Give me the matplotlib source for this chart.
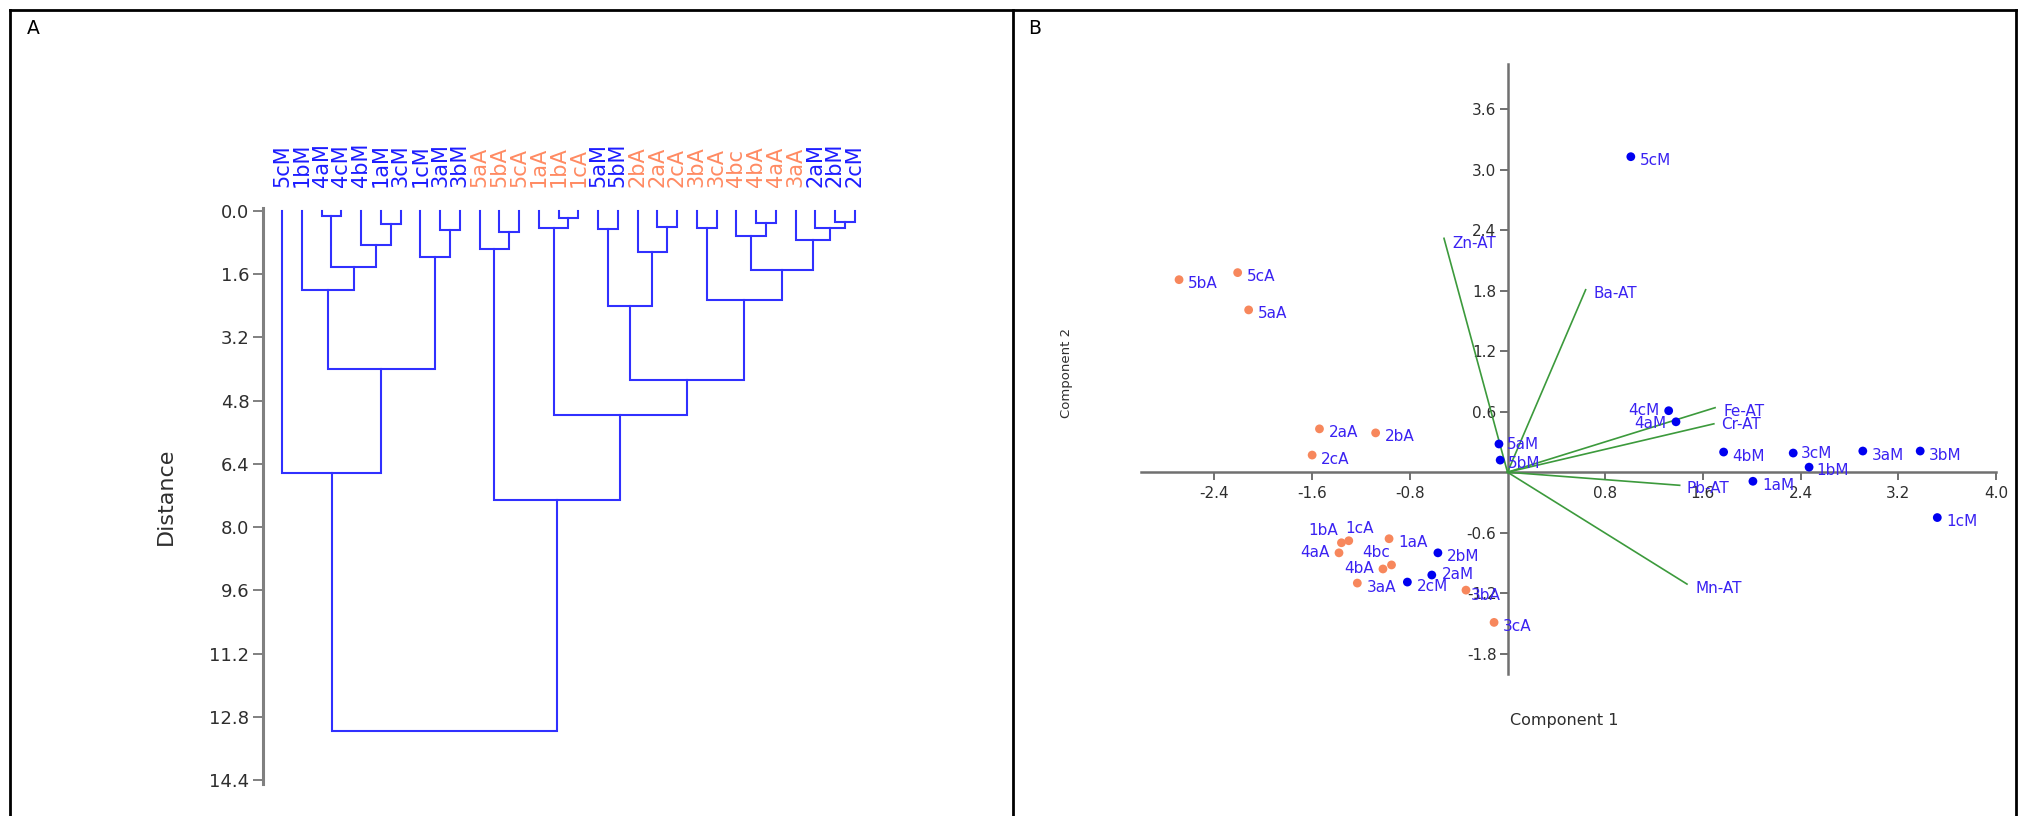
import matplotlib
matplotlib.use('Agg')
import matplotlib.pyplot as plt
from matplotlib.lines import Line2D

# ---------------- Data: panel A (dendrogram) ----------------
leaf_labels = ['5cM', '1bM', '4aM', '4cM', '4bM', '1aM', '3cM', '1cM', '3aM', '3bM',
               '5aA', '5bA', '5cA', '1aA', '1bA', '1cA', '5aM', '5bM', '2bA', '2aA',
               '2cA', '3bA', '3cA', '4bc', '4bA', '4aA', '3aA', '2aM', '2bM', '2cM']
leaf_groups = ['M'] * 10 + ['A'] * 6 + ['M'] * 2 + ['A'] * 9 + ['M'] * 3

# merges: node ids 0..29 are leaves, merge k creates node 30+k
merge_left = [2, 5, 4, 30, 1, 8, 7, 34, 0,
              11, 10, 14, 13, 16, 19, 18, 43, 21, 24, 23, 28, 27, 26, 49, 47, 46, 42, 40, 38]
merge_right = [3, 6, 31, 32, 33, 9, 35, 36, 37,
               12, 39, 15, 41, 17, 20, 44, 45, 22, 25, 48, 29, 50, 51, 52, 53, 54, 55, 56, 57]
merge_height = [0.13, 0.32, 0.87, 1.42, 2.01, 0.49, 1.17, 4.00, 6.62,
                0.53, 0.95, 0.18, 0.44, 0.46, 0.40, 1.05, 2.40, 0.44, 0.31, 0.63,
                0.27, 0.44, 0.74, 1.50, 2.25, 4.28, 5.16, 7.32, 13.17]
dist_ticks = [0.0, 1.6, 3.2, 4.8, 6.4, 8.0, 9.6, 11.2, 12.8, 14.4]

# ---------------- Data: panel B (PCA biplot) ----------------
score_labels = ['5cM', '5bA', '5cA', '5aA', '2aA', '2bA', '2cA', '5aM', '5bM', '4cM',
                '4aM', '4bM', '3cM', '1bM', '3aM', '3bM', '1aM', '1cM',
                '1bA', '1cA', '4aA', '1aA', '2bM', '4bc', '4bA', '2aM', '3aA', '2cM',
                '3bA', '3cA']
score_x = [1.01, -2.69, -2.21, -2.12, -1.54, -1.08, -1.60, -0.07, -0.06, 1.32,
           1.38, 1.77, 2.34, 2.47, 2.91, 3.38, 2.01, 3.52,
           -1.36, -1.30, -1.38, -0.97, -0.57, -0.95, -1.02, -0.62, -1.23, -0.82,
           -0.34, -0.11]
score_y = [3.13, 1.91, 1.98, 1.61, 0.43, 0.39, 0.17, 0.28, 0.12, 0.61,
           0.50, 0.20, 0.19, 0.05, 0.21, 0.21, -0.09, -0.45,
           -0.70, -0.68, -0.80, -0.66, -0.80, -0.92, -0.96, -1.02, -1.10, -1.09,
           -1.17, -1.49]
score_groups = ['M', 'A', 'A', 'A', 'A', 'A', 'A', 'M', 'M', 'M',
                'M', 'M', 'M', 'M', 'M', 'M', 'M', 'M',
                'A', 'A', 'A', 'A', 'M', 'A', 'A', 'M', 'A', 'M',
                'A', 'A']
loading_labels = ['Zn-AT', 'Ba-AT', 'Fe-AT', 'Cr-AT', 'Pb-AT', 'Mn-AT']
loading_x = [-0.52, 0.64, 1.70, 1.69, 1.41, 1.47]
loading_y = [2.32, 1.81, 0.64, 0.48, -0.13, -1.11]
x_ticks = [-2.4, -1.6, -0.8, 0.8, 1.6, 2.4, 3.2, 4.0]
y_ticks = [-1.8, -1.2, -0.6, 0.6, 1.2, 1.8, 2.4, 3.0, 3.6]

# ---------------- Style ----------------
W, H, DPI = 2019, 816, 100
PX = 72.0 / DPI
BLUE_LINE = '#3030ff'
GROUP_COL = {'M': '#1c1cff', 'A': '#ff8a62'}
DOT_COL = {'M': '#0000f0', 'A': '#f7875c'}
LBL_COL = '#3a22f2'
GREEN = '#3c9a3c'
AXGREY = '#707070'
TXT = '#2e2e2e'

# label offsets (pixels, +dy = downwards) and alignment
default_off = (9, 4, 'left')
label_off = {
    '5aM': (8, 1, 'left'), '5bM': (8, 3, 'left'),
    '4cM': (-9, 0, 'right'), '4aM': (-10, 2, 'right'),
    '3cM': (8, 0, 'left'), '1bM': (7, 3, 'left'),
    '1bA': (-3, -12, 'right'), '1cA': (-3, -12, 'left'),
    '4aA': (-9, 0, 'right'), '4bc': (-1, -12, 'right'), '4bA': (-9, 0, 'right'),
    '2aM': (10, -1, 'left'), '3bA': (5, 5, 'left'),
    'Zn-AT': (8, 5, 'left'), 'Ba-AT': (8, 4, 'left'), 'Fe-AT': (8, 4, 'left'),
    'Cr-AT': (7, 1, 'left'), 'Pb-AT': (7, 3, 'left'), 'Mn-AT': (9, 4, 'left'),
}

fig = plt.figure(figsize=(W / DPI, H / DPI), dpi=DPI)
fig.patch.set_facecolor('white')


def rect(l, t, r, b):
    return [l / W, 1 - b / H, (r - l) / W, (b - t) / H]


# ---------------- table borders ----------------
for xs, ys in [((10, 10), (10, H)), ((1013, 1013), (10, H)), ((2016, 2016), (10, H)),
               ((10, 2016), (10, 10))]:
    fig.add_artist(Line2D([x / W for x in xs], [1 - y / H for y in ys],
                          color='black', lw=2.0, transform=fig.transFigure))
fig.text(33 / W, 1 - 29 / H, 'A', fontsize=13.5, ha='center', va='center', color='black')
fig.text(1035 / W, 1 - 29 / H, 'B', fontsize=13.5, ha='center', va='center', color='black')

# ---------------- Panel A: dendrogram ----------------
sp = 19.75
x0 = 282.0
xl_, xr_ = -0.95, 30.2
y_zero, upx = 211.0, (780.0 - 211.0) / 14.4
yt_, yb_ = -0.08, 14.5
axA = fig.add_axes(rect(x0 + xl_ * sp, y_zero + yt_ * upx, x0 + xr_ * sp, y_zero + yb_ * upx))
axA.set_xlim(xl_, xr_)
axA.set_ylim(yb_, yt_)

node_x = list(range(len(leaf_labels)))
node_h = [0.0] * len(leaf_labels)
for a, b, h in zip(merge_left, merge_right, merge_height):
    axA.plot([node_x[a], node_x[a], node_x[b], node_x[b]],
             [node_h[a], h, h, node_h[b]], color=BLUE_LINE, lw=1.5,
             solid_joinstyle='miter', clip_on=False)
    node_x.append((node_x[a] + node_x[b]) / 2.0)
    node_h.append(h)

for i, (lab, g) in enumerate(zip(leaf_labels, leaf_groups)):
    axA.annotate(lab, xy=(i, 0), xycoords='data', xytext=(0, 24 * PX),
                 textcoords='offset points', rotation=90, ha='center', va='bottom',
                 fontsize=15, color=GROUP_COL[g], annotation_clip=False)

for s in ['top', 'right', 'bottom']:
    axA.spines[s].set_visible(False)
axA.spines['left'].set_color('#808080')
axA.spines['left'].set_linewidth(2.2)
axA.set_xticks([])
axA.set_yticks(dist_ticks)
axA.set_yticklabels([f'{v:.1f}' for v in dist_ticks])
axA.tick_params(axis='y', length=7, width=1.4, color='#808080', labelsize=13,
                labelcolor=TXT, pad=3)
fig.text(166 / W, 1 - 496 / H, 'Distance', rotation=90, fontsize=16,
         ha='center', va='center', color=TXT)

# ---------------- Panel B: biplot ----------------
bx0, bsx = 1507.5, 122.1
by0, bsy = 472.2, 100.8
bxl, bxr, byb, byt = -3.2, 4.1, -2.15, 4.2
axB = fig.add_axes(rect(bx0 + bxl * bsx, by0 - byt * bsy, bx0 + bxr * bsx, by0 - byb * bsy))
axB.set_xlim(bxl, bxr)
axB.set_ylim(byb, byt)
axB.patch.set_alpha(0)

for s in ['top', 'right']:
    axB.spines[s].set_visible(False)
axB.spines['bottom'].set_position(('data', 0))
axB.spines['left'].set_position(('data', 0))
axB.spines['bottom'].set_bounds(-3.0, 4.0)
axB.spines['left'].set_bounds(-2.0, 4.05)
for s in ['bottom', 'left']:
    axB.spines[s].set_color(AXGREY)
    axB.spines[s].set_linewidth(1.8)
    axB.spines[s].set_zorder(1)
axB.set_xticks(x_ticks)
axB.set_xticklabels([f'{v:.1f}' for v in x_ticks])
axB.set_yticks(y_ticks)
axB.set_yticklabels([f'{v:.1f}' for v in y_ticks])
axB.tick_params(axis='x', length=6, width=1.4, color=AXGREY, labelsize=11,
                labelcolor=TXT, pad=4)
axB.tick_params(axis='y', length=6, width=1.4, color=AXGREY, labelsize=11,
                labelcolor=TXT, pad=2)

for lab, lx, ly in zip(loading_labels, loading_x, loading_y):
    axB.plot([0, lx], [0, ly], color=GREEN, lw=1.2, zorder=2)
    dx, dy, ha = label_off.get(lab, default_off)
    axB.annotate(lab, xy=(lx, ly), xytext=(dx * PX, -dy * PX), textcoords='offset points',
                 ha=ha, va='center', fontsize=11, color=LBL_COL, zorder=4,
                 annotation_clip=False)

for g in ['A', 'M']:
    xs = [x for x, gg in zip(score_x, score_groups) if gg == g]
    ys = [y for y, gg in zip(score_y, score_groups) if gg == g]
    axB.scatter(xs, ys, s=40, color=DOT_COL[g], edgecolors='none', zorder=3)

for lab, sx, sy in zip(score_labels, score_x, score_y):
    dx, dy, ha = label_off.get(lab, default_off)
    axB.annotate(lab, xy=(sx, sy), xytext=(dx * PX, -dy * PX), textcoords='offset points',
                 ha=ha, va='center', fontsize=11, color=LBL_COL, zorder=4,
                 annotation_clip=False)

fig.text(1510 / W, 1 - 721 / H, 'Component 1', fontsize=11.5, ha='left', va='center',
         color=TXT)
fig.text(1066 / W, 1 - 373 / H, 'Component 2', fontsize=9.5, rotation=90,
         ha='center', va='center', color=TXT)

fig.savefig('out.png', dpi=DPI, facecolor='white')
